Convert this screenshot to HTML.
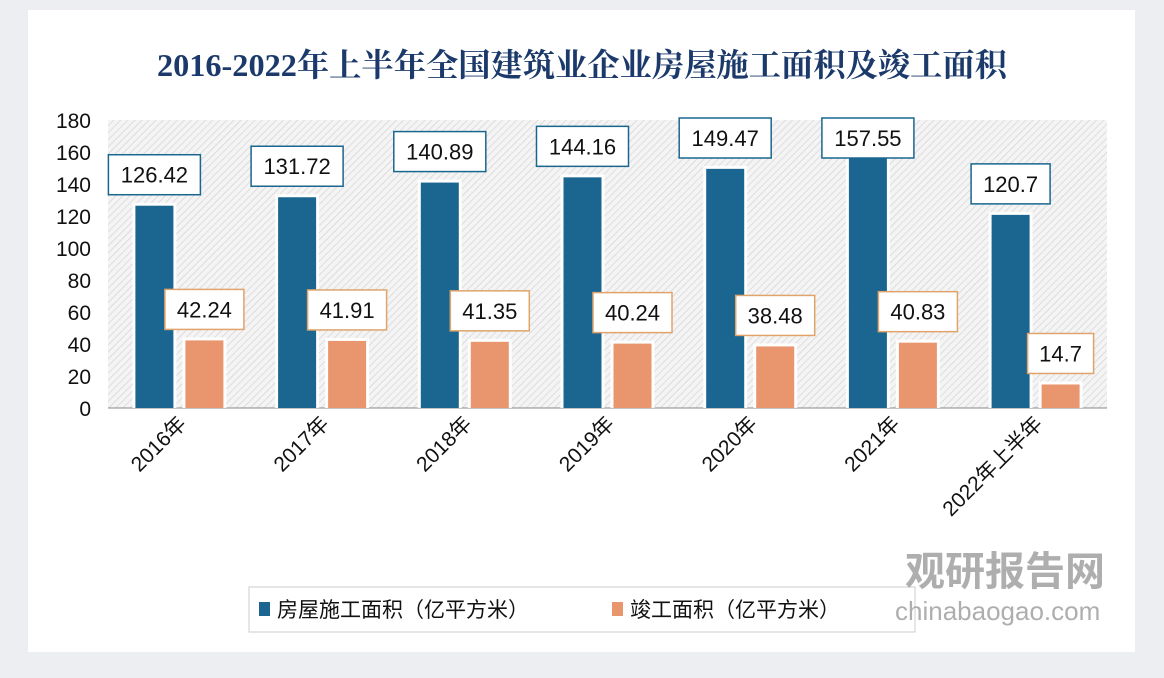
<!DOCTYPE html><html><head><meta charset="utf-8"><style>
body{margin:0;width:1164px;height:678px;background:#eceef1;overflow:hidden;font-family:"Liberation Sans","Noto Sans CJK SC",sans-serif}
</style></head><body>
<svg width="1164" height="678" xmlns="http://www.w3.org/2000/svg" style="position:absolute;left:0;top:0">
<defs>
<pattern id="h" width="5" height="5" patternUnits="userSpaceOnUse" patternTransform="rotate(45)">
<rect width="5" height="5" fill="#f4f4f4"/><line x1="0" y1="0" x2="0" y2="5" stroke="#cfcfcf" stroke-width="1.2"/></pattern>
</defs>
<rect x="28" y="10" width="1107" height="642" fill="#fff"/>
<text x="582" y="76" text-anchor="middle" font-family="Liberation Serif,'Noto Serif CJK SC',serif" font-weight="bold" font-size="32" fill="#1b3a6b" textLength="850" lengthAdjust="spacingAndGlyphs">2016-2022年上半年全国建筑业企业房屋施工面积及竣工面积</text>
<rect x="108" y="120" width="999" height="288" fill="url(#h)"/>
<line x1="108" y1="408" x2="1107" y2="408" stroke="#888" stroke-width="1"/>
<g font-size="21" fill="#111" text-anchor="end">
<text x="91" y="416">0</text><text x="91" y="384">20</text><text x="91" y="352">40</text><text x="91" y="320">60</text><text x="91" y="288">80</text><text x="91" y="256">100</text><text x="91" y="224">120</text><text x="91" y="192">140</text><text x="91" y="160">160</text><text x="91" y="128">180</text>
</g>
<g id="bars"></g>
<rect x="249" y="587" width="666" height="45" fill="#fff" stroke="#ccc"/>
<rect x="259" y="602" width="11" height="14" fill="#1a6690"/>
<text x="277" y="617" font-size="21" fill="#111">房屋施工面积（亿平方米）</text>
<rect x="612" y="602" width="11" height="14" fill="#e9956e"/>
<text x="630" y="617" font-size="21" fill="#111">竣工面积（亿平方米）</text>
<text x="905" y="585" font-size="40" font-weight="bold" fill="#9a9a9a" opacity="0.8">观研报告网</text>
<text x="895" y="620" font-size="26" fill="#9a9a9a" opacity="0.8">chinabaogao.com</text>
</svg>
<script>
var d=[["2016年",126.42,42.24],["2017年",131.72,41.91],["2018年",140.89,41.35],["2019年",144.16,40.24],["2020年",149.47,38.48],["2021年",157.55,40.83],["2022年上半年",120.7,14.7]];
var g=document.getElementById("bars"),s="";
d.forEach(function(r,i){var c=108+142.7*i+71.4;
[[r[1],c-25,"#1a6690","#1a6690"],[r[2],c+25,"#e9956e","#e0a46a"]].forEach(function(b){
var t=408-b[0]*1.6;s+='<rect x="'+(b[1]-22)+'" y="'+(t-3)+'" width="44" height="'+(408-t+3)+'" fill="#fff" opacity="0.9"/>';
s+='<rect x="'+(b[1]-19)+'" y="'+t+'" width="38" height="'+(408-t)+'" fill="'+b[2]+'"/>';
var txt=String(b[0]);var w=txt.length*13+14;var by=Math.max(118,t-51);
s+='<rect x="'+(b[1]-w/2)+'" y="'+by+'" width="'+w+'" height="40" fill="#fff" stroke="'+b[3]+'" stroke-width="1.5"/>';
s+='<text x="'+b[1]+'" y="'+(by+28)+'" text-anchor="middle" font-size="22" fill="#111">'+txt+'</text>';});
s+='<text transform="translate('+(c+8)+',425) rotate(-45)" text-anchor="end" font-size="21" fill="#111">'+r[0]+'</text>';});
g.innerHTML=s;
</script>
</body></html>
